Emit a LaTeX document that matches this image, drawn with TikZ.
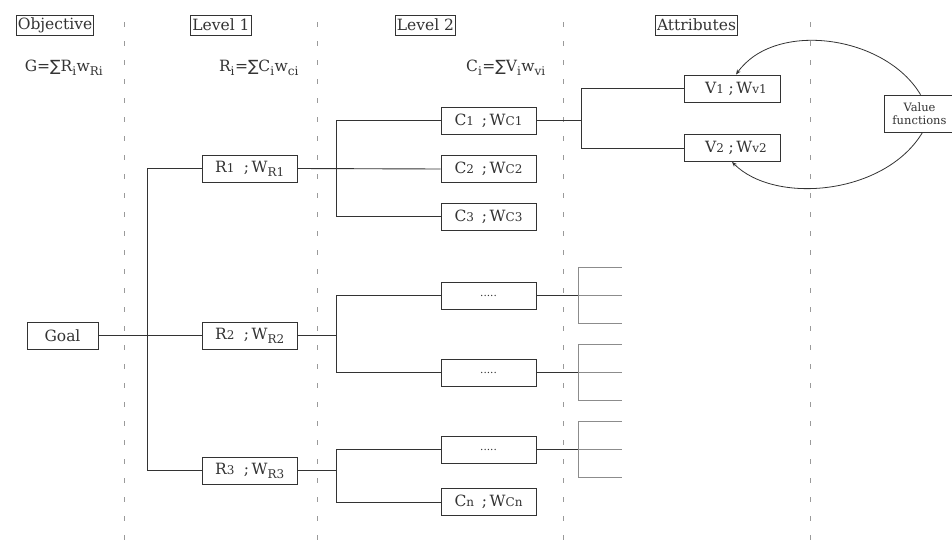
\documentclass[tikz,border=0pt]{standalone}
\usepackage{fontspec}
\setmainfont{DejaVu Serif}
\newfontfamily\symfont{DejaVu Sans}
\usetikzlibrary{arrows.meta}
\newcommand\smd[1]{{\fontsize{12}{12}\selectfont #1}}
\newcommand\lowsub[1]{\textsubscript{\fontsize{12}{12}\selectfont #1}}
\newcommand\sumsign{{\symfont ∑}}
\definecolor{ink}{HTML}{333333}
\definecolor{guide}{HTML}{9A9A9A}
\definecolor{stub}{HTML}{8C8C8C}
\begin{document}
\begin{tikzpicture}[x=1pt,y=-1pt,
  every node/.style={text=ink,font=\fontsize{15.5}{18}\selectfont},
  box/.style={draw=ink,line width=0.9pt,minimum width=95pt,minimum height=27pt,inner sep=0pt},
  head/.style={draw=ink,line width=0.9pt,inner sep=1.5pt,minimum height=20pt},
  link/.style={draw=ink,line width=0.9pt},
  guideline/.style={draw=guide,line width=0.8pt,dash pattern=on 5pt off 14pt},
  stubline/.style={draw=stub,line width=0.9pt},
  fb/.style={draw=ink,line width=0.8pt,-{Stealth[length=5pt,width=4pt]}}]
\useasboundingbox (0,0) rectangle (952,541);

% column separators
\foreach \x in {124,317,563,810}
  \draw[guideline] (\x,22) -- (\x,541);

% column headers
\node[head] (hobj) at (55,25) {Objective};
\node[head] (hl1) at (221,25) {Level 1};
\node[head] (hl2) at (425.5,25) {Level 2};
\node[head] (hatt) at (696.5,25) {Attributes};

% aggregation rules
\node (fg) at (64,68) {G=\sumsign R\lowsub{i}w\lowsub{Ri}};
\node (fr) at (259,68) {R\lowsub{i}=\sumsign C\lowsub{i}w\lowsub{ci}};
\node (fc) at (506,68) {C\lowsub{i}=\sumsign V\lowsub{i}w\lowsub{vi}};

% goal and level 1
\node[box,minimum width=71pt] (goal) at (62.5,335.5) {Goal};
\node[box] (r1) at (250,168.5) {R\smd{1}\hspace{0.6em};\,W\lowsub{R1}};
\node[box] (r2) at (250,335.5) {R\smd{2}\hspace{0.6em};\,W\lowsub{R2}};
\node[box] (r3) at (250,470.5) {R\smd{3}\hspace{0.6em};\,W\lowsub{R3}};

% level 2
\node[box] (c1) at (488.5,120.5) {C\smd{1}\hspace{0.5em};\,W\smd{C1}};
\node[box] (c2) at (488.5,169) {C\smd{2}\hspace{0.5em};\,W\smd{C2}};
\node[box] (c3) at (488.5,216.5) {C\smd{3}\hspace{0.5em};\,W\smd{C3}};
\node[box] (d1) at (488.5,295.5) {\fontsize{10.5}{10.5}\selectfont .....};
\node[box] (d2) at (488.5,372.5) {\fontsize{10.5}{10.5}\selectfont .....};
\node[box] (d3) at (488.5,449.5) {\fontsize{10.5}{10.5}\selectfont .....};
\node[box] (cn) at (488.5,502) {C\smd{n}\hspace{0.5em};\,W\smd{Cn}};

% attributes
\node[box,minimum width=96pt] (v1) at (732,88.5) {\hspace{0.5em}V\smd{1}\hspace{0.3em};\,W\smd{v1}};
\node[box,minimum width=96pt] (v2) at (732,148) {\hspace{0.5em}V\smd{2}\hspace{0.3em};\,W\smd{v2}};
\node[draw=ink,line width=0.8pt,minimum width=71pt,minimum height=37pt,inner sep=0pt,
      align=center,font=\fontsize{11.5}{13.5}\selectfont] (vf) at (919.5,113.5) {Value\\functions};

% tree: goal to level 1
\draw[link] (goal.east) -- (r2.west);
\draw[link] (r1.west) -- ++(-55,0) |- (r3.west);

% tree: level 1 to level 2
\draw[link] (r1.east) -- (c2.west);
\draw[link] (c1.west) -- ++(-104,0) |- (c3.west);
\coordinate (k2) at (337,335.5);
\draw[link] (r2.east) -- (k2);
\draw[link] (d1.west) -- ++(-104,0) |- (d2.west);
\coordinate (k3) at (337,470.5);
\draw[link] (r3.east) -- (k3);
\draw[link] (d3.west) -- ++(-104,0) |- (cn.west);

% tree: level 2 to attributes
\coordinate (k1) at (582,120.5);
\draw[link] (c1.east) -- (k1);
\draw[link] (v1.west) -- ++(-102,0) |- (v2.west);

% open attribute stubs
\foreach \n in {d1,d2,d3}{
  \draw[link] (\n.east) -- ++(42,0) coordinate (\n s);
  \draw[stubline] (\n s) -- ++(44,0);
  \draw[stubline] ([yshift=28pt]\n s) -- ++(44,0);
  \draw[stubline] ([yshift=28pt]\n s) -- ([yshift=-28pt]\n s) -- ++(44,0);
}

% value function feedback
\draw[fb] ([xshift=1pt]vf.north) .. controls (885,35) and (775,20) .. ([xshift=4pt]v1.north);
\draw[fb] ([xshift=3pt]vf.south) .. controls (885,195) and (775,205) .. (v2.south);
\end{tikzpicture}
\end{document}
